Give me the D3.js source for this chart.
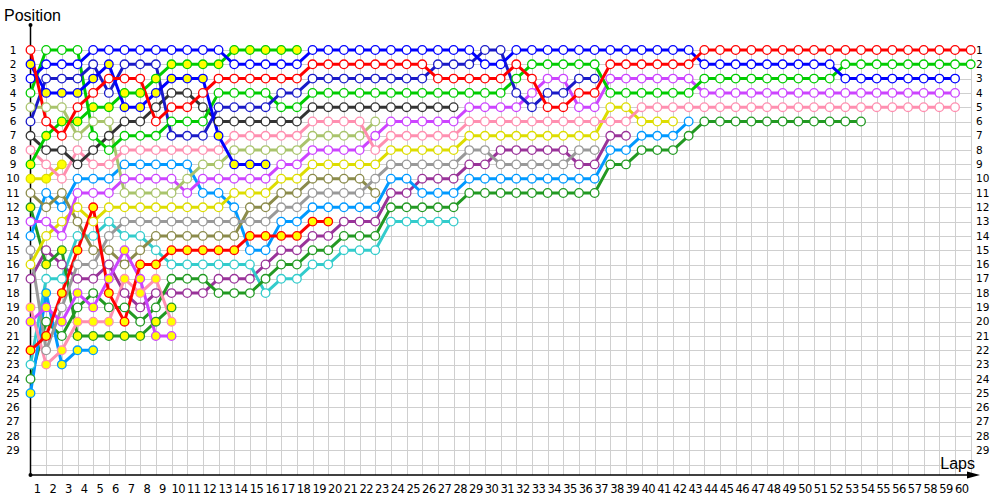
<!DOCTYPE html>
<html><head><meta charset="utf-8">
<script src="https://cdn.jsdelivr.net/npm/d3@7"></script>
<style>
body{margin:0;background:#fff;}
svg{display:block;}
text{font-family:"DejaVu Sans",Verdana,sans-serif;fill:#000;}
</style></head>
<body><svg id="c" width="1000" height="500"></svg>
<script>
// ---- data (position per lap, starting at lap 0) ----
const lapTicks = d3.range(1, 61);
const posTicks = d3.range(1, 30);

const R1 = [1,6,7,5,4,3,3,3,6,5, 5,4,3,3,3,3,3,3,2,2, 2,2,2,2,2,2,3,3,3,3, 3,2,3,5,5,4,4,2,2,2, 2,2,2,1,1,1,1,1,1,1, 1,1,1,1,1,1,1,1,1,1, 1];
const R2 = [22,21,18,15,12,18,20,16,16,15, 15,15,15,15,14,14,14,14,13,13];
const B1 = [3,2,2,2,1,1,1,1,1,1, 1,1,1,2,2,2,2,2,1,1, 1,1,1,1,1,1,1,1,1,2, 2,1,1,1,1,1,1,1,1,1, 1,1,1,2,2,2,2,2,2,2, 2,2,3,3,3,3,3,3,3,3];
const B2 = [2,4,4,4,3,2,5,5,4,3, 3,3,7,9,9,9];
const N1 = [6,3,3,3,2,4,2,2,2,7, 7,7,5,5,5,5,4,4,3,3, 3,3,3,3,3,3,2,2,2,1, 1,4,5,4,4,3,3];
const G1 = [4,1,1,1,7,8,7,7,7,6, 6,6,4,4,4,4,5,5,4,4, 4,4,4,4,4,4,4,4,4,4, 4,3,2,2,2,2,2,4,4,4, 4,4,4,3,3,3,3,3,3,3, 3,3,2,2,2,2,2,2,2,2, 2];
const G2 = [9,7,6,6,5,5,4,4,3,2, 2,2,2,1,1,1,1,1];
const K1 = [7,8,8,9,8,7,6,6,5,4, 4,5,6,6,6,6,6,6,5,5, 5,5,5,5,5,5,5,5];
const P1 = [8,9,10,8,9,9,8,8,8,8, 8,8,8,7,7,7,7,7,6,6, 6,6,8,7,7,7,7,7,6,6, 6,6,6,6,6,6,6,6,6,5, 5,5,5,5,5,5,5,5,5,5, 5,5,5,5,5,5,5,5,5,5];
const P2 = [19,23,22,20,20,20,17,18,17,20];
const L1 = [5,5,5,7,6,6,11,11,11,11, 10,9,9,8,8,8,8,8,7,7, 7,7,6];
const M1 = [13,13,14,11,11,11,10,10,10,10, 11,10,10,10,10,10,9,9,8,8, 8,8,7,6,6,6,6,6,5,5, 5,5,4,3,3,5,5,3,3,3, 3,3,3,4,4,4,4,4,4,4, 4,4,4,4,4,4,4,4,4,4];
const M2 = [20,19,20,18,19,17,15,17,21,21];
const Y1 = [16,14,13,12,13,12,12,12,12,12, 12,12,12,11,11,11,10,10,9,9, 9,9,9,8,8,8,8,8,7,7, 7,7,7,7,7,7,7,5,5,6, 6,6];
const Y2 = [10,10,9];
const S1 = [15,22,19,16,16,14,13,13,13,13, 13,13,13,13,13,13,12,12,11,11, 11,11,10,9,9,9,9,9,8,8, 9,9,9,9,9,8,8];
const O1 = [11,12,11,13,15,15,16,15,14,14, 14,14,14,14,12,12,11,11,10,10, 10,10,11];
const C1 = [14,11,12,10,10,10,9,9,9,9, 9,11,11,12,15,15,13,13,12,12, 12,12,12,10,10,11,11,11,10,10, 10,10,10,10,10,10,10,8,8,7, 7,7,6];
const C2 = [25,18,23,22,22];
const D1 = [17,15,16,17,17,16,18,19,18,18, 18,18,17,17,17,16,15,15,14,14, 13,13,13,11,11,10,10,10,9,9, 8,8,8,8,8,9,9,7,7];
const T1 = [23,17,17,14,14,13,14,14,15,16, 16,16,16,16,16,18,17,17,16,16, 15,15,15,13,13,13,13,13];
const F1 = [24,20,21,19,18,19,19,20,19,17, 17,17,18,18,18,17,16,16,15,15, 14,14,14,12,12,12,12,12,11,11, 11,11,11,11,11,11,11,9,9,8, 8,8,7,6,6,6,6,6,6,6, 6,6,6,6];
const F2 = [12,16,15,21,21,21,21,21,20,19];

// series table: [positions, line colour, marker fill]
const series = [
  [D1,"#993399","#fff"],[T1,"#33cccc","#fff"],[F1,"#229922","#fff"],[F2,"#229922","#ffff00"],
  [C2,"#0099ff","#ffff00"],[C1,"#0099ff","#fff"],[O1,"#8b8b4b","#fff"],[S1,"#999999","#fff"],
  [Y2,"#dddd00","#ffff00"],[Y1,"#dddd00","#fff"],[M2,"#cc44ff","#ffff00"],[M1,"#cc44ff","#fff"],
  [L1,"#a9c46c","#fff"],[P2,"#ff8fb0","#ffff00"],[P1,"#ff8fb0","#fff"],[K1,"#333333","#fff"],
  [G2,"#00cc00","#ffff00"],[G1,"#00cc00","#fff"],[N1,"#1a1ac8","#fff"],[B2,"#0000ff","#ffff00"],
  [B1,"#0000ff","#fff"],[R2,"#ff0000","#ffff00"],[R1,"#ff0000","#fff"]
];

const svg = d3.select("#c");
const x = d3.scaleLinear().domain([0, 60]).range([30.5, 970.7]);
const y = d3.scaleLinear().domain([1, 30]).range([50, 464.7]);
const yAxisBottom = 475;

// grid
const g = svg.append("g").attr("stroke", "#cfcfcf").attr("stroke-width", 1).attr("shape-rendering","crispEdges");
g.selectAll("line.h").data(d3.range(1, 31)).join("line")
  .attr("x1", x(0)).attr("x2", x(60)).attr("y1", d => Math.round(y(d))+0.5).attr("y2", d => Math.round(y(d))+0.5);
g.selectAll("line.v").data(lapTicks).join("line")
  .attr("y1", y(1)).attr("y2", yAxisBottom).attr("x1", d => Math.round(x(d))+0.5).attr("x2", d => Math.round(x(d))+0.5);

// axes
svg.append("line").attr("x1", 30.5).attr("x2", 30.5).attr("y1", 25).attr("y2", yAxisBottom).attr("stroke", "#000").attr("stroke-width", 1.5);
svg.append("line").attr("x1", 30.5).attr("x2", 972).attr("y1", yAxisBottom).attr("y2", yAxisBottom).attr("stroke", "#000").attr("stroke-width", 1.5);
svg.append("path").attr("d", `M980,${yAxisBottom} L967,${yAxisBottom-3.5} L967,${yAxisBottom+3.5} Z`).attr("fill", "#000");
svg.append("circle").attr("cx", 30.5).attr("cy", 25).attr("r", 2).attr("fill", "#000");
svg.append("circle").attr("cx", 30.5).attr("cy", yAxisBottom).attr("r", 2).attr("fill", "#000");

// labels
svg.append("text").attr("x", 4).attr("y", 21).attr("font-size", 16).style("font-family","Liberation Sans, Arial, sans-serif").text("Position");
svg.append("text").attr("x", 975).attr("y", 469).attr("font-size", 16).attr("text-anchor","end").style("font-family","Liberation Sans, Arial, sans-serif").text("Laps");

svg.selectAll("text.yl").data(posTicks).join("text").attr("class","yl")
  .attr("x", 13).attr("y", d => y(d)).attr("dy", "0.35em").attr("text-anchor", "middle").attr("font-size", 10.5).text(d => d);
svg.selectAll("text.yr").data(posTicks).join("text").attr("class","yr")
  .attr("x", 976).attr("y", d => y(d)).attr("dy", "0.35em").attr("font-size", 10.5).text(d => d);
svg.selectAll("text.xl").data(lapTicks).join("text").attr("class","xl")
  .attr("x", d => x(d) - 9).attr("y", 493).attr("text-anchor", "middle").attr("font-size", 11.5).attr("letter-spacing", "-0.5").text(d => d);

// lines
const line = d3.line().x((d, i) => x(i)).y(d => y(d));
const lg = svg.append("g");
series.forEach(([pos, col]) => {
  lg.append("path").attr("d", line(pos)).attr("fill", "none").attr("stroke", col).attr("stroke-width", 3).attr("stroke-linejoin","round");
});
const mg = svg.append("g");
series.forEach(([pos, col, fill]) => {
  mg.selectAll(null).data(pos).join("circle")
    .attr("cx", (d, i) => x(i)).attr("cy", d => y(d)).attr("r", 4.3)
    .attr("fill", fill).attr("stroke", col).attr("stroke-width", 1.3);
});
</script></body></html>
